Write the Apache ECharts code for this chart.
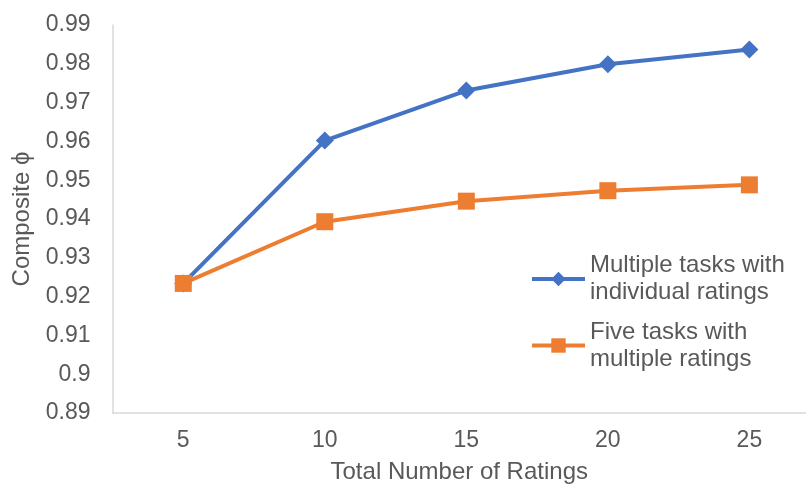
<!DOCTYPE html>
<html>
<head>
<meta charset="utf-8">
<script src="https://cdn.jsdelivr.net/npm/echarts@6/dist/echarts.min.js"></script>
<style>
  html, body { margin: 0; padding: 0; background: #fff; }
  #chart { width: 806px; height: 486px; }
</style>
</head>
<body>
<div id="chart"></div>
<script>
// Composite phi against the total number of ratings
const ratingCounts = [5, 10, 15, 20, 25];
const multipleTasksIndividual = [0.9234, 0.9602, 0.9731, 0.9799, 0.9837];
const fiveTasksMultiple = [0.9234, 0.9393, 0.9446, 0.9473, 0.9488];
const seriesNames = ['Multiple tasks with\nindividual ratings', 'Five tasks with\nmultiple ratings'];

const FONT = '"Liberation Sans", Arial, sans-serif';
const TEXT = '#595959';
const AXIS = '#d9d9d9';
const BLUE = '#4472C4';
const ORANGE = '#ED7D31';

const toPairs = values => ratingCounts.map((n, i) => [n, values[i]]);

const legendBase = {
  orient: 'vertical', left: 530, padding: 0,
  itemWidth: 53, itemHeight: 18, itemGap: 5,
  lineStyle: { width: 4 },
  textStyle: {
    fontFamily: FONT, fontSize: 24, color: TEXT, lineHeight: 27,
    padding: [27, 0, 0, 0]
  }
};

const chart = echarts.init(document.getElementById('chart'), null, { renderer: 'canvas' });
chart.setOption({
  animation: false,
  backgroundColor: '#ffffff',
  grid: {
    left: 112.5, top: 25, right: 0, height: 388,
    containLabel: false, outerBoundsMode: 'none'
  },
  legend: [
    Object.assign({ data: [seriesNames[0]], top: 238.5 }, legendBase),
    Object.assign({ data: [seriesNames[1]], top: 305 }, legendBase)
  ],
  xAxis: {
    type: 'value',
    min: 2.5,
    max: 27,
    name: 'Total Number of Ratings',
    nameLocation: 'middle',
    nameGap: 47,
    nameTextStyle: { fontFamily: FONT, fontSize: 24, color: TEXT },
    axisLine: { show: true, onZero: false, lineStyle: { color: AXIS, width: 1.5 } },
    axisTick: { show: false },
    axisLabel: {
      fontFamily: FONT, fontSize: 23, color: TEXT, margin: 16,
      customValues: ratingCounts
    },
    splitLine: { show: false }
  },
  yAxis: {
    type: 'value',
    min: 0.89,
    max: 0.99,
    interval: 0.01,
    name: 'Composite \u03D5',
    nameLocation: 'middle',
    nameGap: 67,
    nameTextStyle: { fontFamily: FONT, fontSize: 24, color: TEXT },
    axisLine: { show: true, lineStyle: { color: AXIS, width: 1.5 } },
    axisTick: { show: false },
    axisLabel: {
      fontFamily: FONT, fontSize: 23, color: TEXT, margin: 22,
      padding: [4, 0, 0, 0],
      formatter: v => String(parseFloat(v.toFixed(2)))
    },
    splitLine: { show: false }
  },
  series: [
    {
      name: seriesNames[0],
      type: 'line',
      data: toPairs(multipleTasksIndividual),
      symbol: 'diamond',
      symbolSize: 18,
      lineStyle: { color: BLUE, width: 4 },
      itemStyle: { color: BLUE },
      z: 2
    },
    {
      name: seriesNames[1],
      type: 'line',
      data: toPairs(fiveTasksMultiple),
      symbol: 'rect',
      symbolSize: 17,
      lineStyle: { color: ORANGE, width: 4 },
      itemStyle: { color: ORANGE },
      z: 3
    }
  ]
});
</script>
</body>
</html>
